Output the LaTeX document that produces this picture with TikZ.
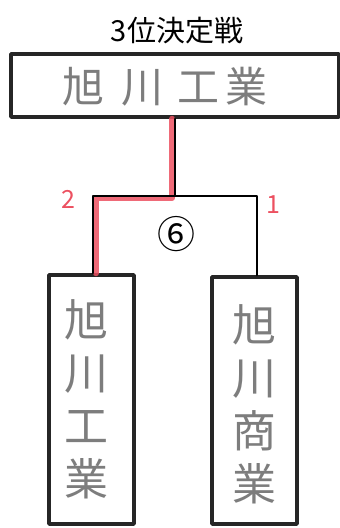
\documentclass[tikz,border=0pt]{standalone}
\usepackage{fontspec}
\usepackage{xcolor}
\usepackage{tikz}
\usetikzlibrary{calc}
\newfontfamily\jpfont{Noto Sans CJK JP}
\definecolor{winred}{RGB}{236,80,96}
\definecolor{pencil}{RGB}{125,125,125}
\tikzset{
  every picture/.style={line cap=round,line join=round},
  teambox/.style={draw=black!85, line width=3.5pt, inner sep=0pt},
  hand/.style={text=pencil, font=\jpfont\fontsize{44}{53}\selectfont, align=center},
  wire/.style={draw=black, line width=2pt},
  winwire/.style={draw=winred, line width=6pt, opacity=0.85},
  score/.style={text=winred, font=\jpfont\fontsize{25}{25}\selectfont},
}

\begin{document}
\begin{tikzpicture}[x=1pt,y=-1pt]
    \useasboundingbox (0,0) rectangle (340,528);
    % 見出し
    \node (title) at (177,31) {\jpfont\fontsize{29}{29}\selectfont 3位決定戦};
    % 勝者枠
    \node (topbox) [teambox, minimum width=328pt, minimum height=63pt] at (175,85.5) {};
    \node (topname) [hand, font=\jpfont\fontsize{42}{42}\selectfont] at (165,87) {旭\hspace{18pt}川\hspace{14pt}工\hspace{6pt}業};
    % 対戦校
    \node (lbox) [teambox, minimum width=85pt, minimum height=249pt] at (91.5,399.5) {};
    \node (lname) [hand] at (86,399) {旭\\川\\工\\業};
    \node (rbox) [teambox, minimum width=85pt, minimum height=247pt] at (254.5,400.5) {};
    \node (rname) [hand] at (254,404) {旭\\川\\商\\業};
    % 組み合わせ線
    \coordinate (jt) at (175,196);
    \coordinate (jl) at (93,196);
    \coordinate (jr) at (257,196);
    \draw[winwire] ($(topbox.south)+(-3,0)$) -- ($(jt)+(-3,2)$) -- ($(jl)+(3,2)$) -- ($(jl |- lbox.north)+(3,0)$);
    \draw[wire] (topbox.south) -- (jt);
    \draw[wire] (jl |- lbox.north) -- (jl) -- (jr) -- (jr |- rbox.north);
    % 試合番号と得点
    \node (m6) at (176,234) {\jpfont\fontsize{38}{38}\selectfont ⑥};
    \node (lscore) [score] at (68,199) {2};
    \node (rscore) [score] at (273,205) {1};
\end{tikzpicture}
\end{document}
